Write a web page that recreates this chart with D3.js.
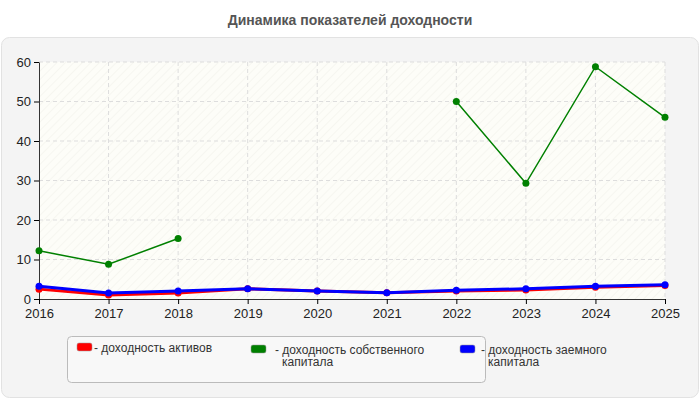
<!DOCTYPE html>
<html><head><meta charset="utf-8">
<script src="https://cdn.jsdelivr.net/npm/d3@7"></script>
<style>body{margin:0;background:#fff;font-family:Arial,"Liberation Sans",sans-serif}</style>
</head><body><svg id="c" width="700" height="400"></svg>
<script>
const years=[2016,2017,2018,2019,2020,2021,2022,2023,2024,2025];
const assets=[2.5,1.0,1.5,2.6,2.0,1.6,2.0,2.3,3.0,3.4];
const equity=[12.2,8.8,15.3,null,null,null,50,29.3,58.8,46];
const debt=[3.2,1.5,2.0,2.6,2.0,1.6,2.2,2.6,3.2,3.6];
const yTicks=[0,10,20,30,40,50,60];
const names=["- доходность активов","- доходность собственного|капитала","- доходность заемного|капитала"];
const colors=["#ff0000","#008000","#0000ff"];

const svg=d3.select("#c");
const defs=svg.append("defs");
const p=defs.append("pattern").attr("id","h").attr("width",6).attr("height",6).attr("patternUnits","userSpaceOnUse").attr("patternTransform","rotate(45)");
p.append("rect").attr("width",6).attr("height",6).attr("fill","#fdfdf8");
p.append("line").attr("x1",0).attr("y1",0).attr("x2",0).attr("y2",6).attr("stroke","#f0f0e8").attr("stroke-width",1);

svg.append("text").attr("x",350).attr("y",25).attr("text-anchor","middle").attr("font-size",14).attr("font-weight","bold").attr("fill","#555").text("Динамика показателей доходности");
svg.append("rect").attr("x",1.5).attr("y",37.5).attr("width",697).attr("height",360).attr("rx",8).attr("fill","#f4f4f4").attr("stroke","#e2e2e2");

const x=d3.scaleLinear().domain([2016,2025]).range([39,665]);
const y=d3.scaleLinear().domain([0,60]).range([299,62]);
svg.append("rect").attr("x",39).attr("y",62).attr("width",626).attr("height",237).attr("fill","url(#h)");
const g=svg.append("g");
yTicks.slice(1).forEach(t=>g.append("line").attr("x1",39).attr("x2",665).attr("y1",y(t)).attr("y2",y(t)).attr("stroke","#ddd").attr("stroke-dasharray","4,3"));
years.slice(1).forEach(t=>g.append("line").attr("x1",x(t)).attr("x2",x(t)).attr("y1",62).attr("y2",299).attr("stroke","#ddd").attr("stroke-dasharray","4,3"));

svg.append("g").attr("transform","translate(39,0)").call(d3.axisLeft(y).tickValues(yTicks).tickSize(5).tickSizeOuter(0))
 .call(a=>{a.selectAll("text").attr("font-size",13).attr("fill","#222").attr("font-family","Arial,sans-serif");a.select(".domain").attr("stroke","#333");});
svg.append("g").attr("transform","translate(0,299)").call(d3.axisBottom(x).tickValues(years).tickFormat(d3.format("d")).tickSize(5).tickSizeOuter(0))
 .call(a=>{a.selectAll("text").attr("font-size",13).attr("fill","#222").attr("font-family","Arial,sans-serif").attr("dy","0.85em");a.select(".domain").attr("stroke","#333");});

const series=[[assets,3],[equity,1.5],[debt,3]];
series.forEach(([d,w],i)=>{
  const line=d3.line().defined(v=>v!=null).x((v,j)=>x(years[j])).y(v=>y(v));
  svg.append("path").attr("d",line(d)).attr("fill","none").attr("stroke",colors[i]).attr("stroke-width",w);
  d.forEach((v,j)=>{if(v!=null)svg.append("circle").attr("cx",x(years[j])).attr("cy",y(v)).attr("r",3.5).attr("fill",colors[i]);});
});

svg.append("rect").attr("x",67.5).attr("y",336.5).attr("width",418).attr("height",46).attr("rx",4).attr("fill","#f8f8f8").attr("stroke","#bbb");
names.forEach((n,i)=>{
  const yy=i==0?343:345;
  svg.append("rect").attr("x",[77,251,460][i]).attr("y",yy).attr("width",15).attr("height",8).attr("rx",2).attr("fill",colors[i]).attr("stroke","#999").attr("stroke-width",0.5);
  const parts=n.split("|");
  parts.forEach((s,k)=>svg.append("text").attr("x",k==0?[94,275,481][i]:[94,282,488][i]).attr("y",yy+9+k*12).attr("font-size",12).attr("fill","#333").text(s));
});
</script></body></html>
